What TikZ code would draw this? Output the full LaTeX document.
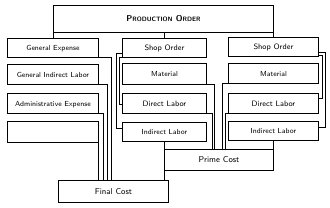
\documentclass[tikz,border=0pt]{standalone}
\begin{document}
\begin{tikzpicture}[x=1pt,y=-1pt,
  box/.style={draw, line width=0.9pt, inner sep=0pt, anchor=north west,
    text height=6pt, text depth=0pt,
    font=\sffamily\fontsize{7.3}{8}\selectfont},
  bigtxt/.style={font=\sffamily\fontsize{8.5}{9}\selectfont},
  conn/.style={line width=0.9pt}]
\useasboundingbox (0,0) rectangle (330,207);
% production order
\node[box, minimum width=220pt, minimum height=27pt] (prod) at (53,5)
  {\bfseries\fontsize{8.5}{9}\selectfont P{\fontsize{6.3}{7}\selectfont RODUCTION} O{\fontsize{6.3}{7}\selectfont RDER}};
% left column
\node[box, minimum width=91pt, minimum height=19pt] (ge) at (7,38) {General Expense};
\node[box, minimum width=91pt, minimum height=20pt] (gil) at (7,64) {General Indirect Labor};
\node[box, minimum width=91pt, minimum height=20pt] (ae) at (7,93) {Administrative Expense};
\node[box, minimum width=91pt, minimum height=21pt] (blank) at (7,121) {};
% middle column
\node[box, minimum width=84pt, minimum height=19pt] (mshop) at (122,38) {\fontsize{7.8}{8}\selectfont Shop Order};
\node[box, minimum width=84pt, minimum height=21pt] (mmat) at (122,63) {Material};
\node[box, minimum width=84pt, minimum height=20pt] (mdl) at (122,93) {\fontsize{7.8}{8}\selectfont Direct Labor};
\node[box, minimum width=84pt, minimum height=19pt] (mind) at (122,122) {Indirect Labor};
% right column
\node[box, minimum width=90pt, minimum height=19pt] (rshop) at (228,37) {\fontsize{7.8}{8}\selectfont Shop Order};
\node[box, minimum width=90pt, minimum height=20pt] (rmat) at (228,63) {Material};
\node[box, minimum width=90pt, minimum height=20pt] (rdl) at (228,93) {\fontsize{7.8}{8}\selectfont Direct Labor};
\node[box, minimum width=90pt, minimum height=19pt] (rind) at (228,121) {Indirect Labor};
% costs
\node[box, bigtxt, minimum width=109pt, minimum height=21pt] (pc) at (164,149) {Prime Cost};
\node[box, bigtxt, minimum width=110pt, minimum height=22pt] (fc) at (58,180) {Final Cost};
% production order links
\draw[conn] (prod.south west) -- (prod.south west |- ge.north);
\draw[conn] (prod.south east) -- (prod.south east |- rshop.north);
\draw[conn] (mshop.north) -- (mshop.north |- prod.south);
% left column to final cost
\draw[conn] (ge.south east) -- ++(13,0) coordinate (g1) -- (g1 |- fc.north);
\draw[conn] (gil.south east) -- ++(9,0) coordinate (g2) -- (g2 |- fc.north);
\draw[conn] (ae.south east) -- ++(5,0) coordinate (g3) -- (g3 |- fc.north);
\draw[conn] (blank.south east) -- (blank.south east |- fc.north);
% middle brackets
\draw[conn] ([yshift=4pt]mshop.south west) -- ++(-6,0) |- ([yshift=3.5pt]mind.west);
\draw[conn] (mshop.south west) -- ++(-3,0) |- ([yshift=-1pt]mdl.west);
% right brackets
\draw[conn] ([yshift=4pt]rshop.south east) -- ++(7,0) |- ([yshift=3.5pt]rind.east);
\draw[conn] ([yshift=1pt]rshop.south east) -- ++(3.5,0) |- ([yshift=5pt]rdl.east);
% to prime cost
\draw[conn] (mmat.south east) -- ++(8,0) coordinate (p1) -- (p1 |- pc.north);
\draw[conn] (mdl.south east) -- ++(6,0) coordinate (p2) -- (p2 |- pc.north);
\draw[conn] (rmat.south west) -- ++(-6,0) coordinate (p3) -- (p3 |- pc.north);
\draw[conn] (rdl.south west) -- ++(-3,0) coordinate (p4) -- (p4 |- pc.north);
\draw[conn] (pc.north west) -- (pc.north west |- mind.south);
\draw[conn] (pc.south west) -- (pc.south west |- fc.north);
\draw[conn] (pc.north east) -- (pc.north east |- rind.south);
\end{tikzpicture}
\end{document}
